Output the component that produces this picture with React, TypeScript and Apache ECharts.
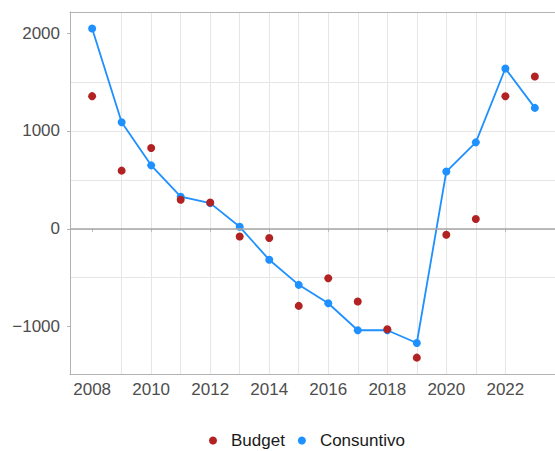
import React, { useEffect, useRef } from "react";
import * as echarts from "echarts";

const years = [2008, 2009, 2010, 2011, 2012, 2013, 2014, 2015, 2016, 2017, 2018, 2019, 2020, 2021, 2022, 2023];
const budget = [1355, 594, 826, 297, 268, -79, -95, -788, -505, -744, -1027, -1317, -61, 99, 1354, 1556];
const consuntivo = [2047, 1088, 648, 328, 262, 20, -317, -573, -761, -1037, -1037, -1167, 585, 883, 1638, 1235];
const yLabelValues = [-1000, 0, 1000, 2000];
const yGridValues = [-1000, -500, 0, 500, 1000, 1500, 2000];
const xLabelValues = [2008, 2010, 2012, 2014, 2016, 2018, 2020, 2022];

const FONT = "'Liberation Sans', Arial, Helvetica, sans-serif";
const GRID = "#e6e6e6";
const BORDER = "#b3b3b3";

export default function App() {
  const ref = useRef<HTMLDivElement>(null);
  useEffect(() => {
    if (!ref.current) return;
    const chart = echarts.init(ref.current, undefined, { renderer: "svg" });
    const yMin = -1484;
    const yMax = 2215;
    const xMin = 2007.25;
    const xMax = 2023.75;
    const fmtY = (v: number) => (v < 0 ? "\u2212" + Math.abs(v) : String(v));
    const borderLine = { show: true, onZero: false, lineStyle: { color: BORDER, width: 1 } };
    chart.setOption({
      animation: false,
      backgroundColor: "#ffffff",
      textStyle: { fontFamily: FONT },
      grid: {
        left: 70,
        top: 12,
        right: 43,
        bottom: 77,
        show: false,
        containLabel: false,
      },
      xAxis: [
        {
          type: "value",
          min: xMin,
          max: xMax,
          position: "bottom",
          axisLine: borderLine,
          axisTick: { show: false, customValues: years },
          splitLine: { show: true, showMinLine: false, showMaxLine: false, lineStyle: { color: GRID, width: 1 } },
          axisLabel: {
            customValues: xLabelValues,
            formatter: (v: number) => String(v),
            color: "#4d4d4d",
            fontSize: 17,
            fontFamily: FONT,
            margin: 7,
          },
        },
        {
          type: "value",
          min: xMin,
          max: xMax,
          position: "bottom",
          axisLine: { show: false },
          axisTick: { show: true, customValues: xLabelValues, length: 3, lineStyle: { color: BORDER } },
          splitLine: { show: false },
          axisLabel: { show: false },
        },
        {
          type: "value",
          min: xMin,
          max: xMax,
          position: "top",
          axisLine: borderLine,
          axisTick: { show: false },
          splitLine: { show: false },
          axisLabel: { show: false },
        },
      ],
      yAxis: [
        {
          type: "value",
          min: yMin,
          max: yMax,
          position: "left",
          axisLine: borderLine,
          axisTick: { show: false, customValues: yGridValues },
          splitLine: { show: true, showMinLine: false, showMaxLine: false, lineStyle: { color: GRID, width: 1 } },
          axisLabel: {
            customValues: yLabelValues,
            formatter: fmtY,
            color: "#4d4d4d",
            fontSize: 17,
            fontFamily: FONT,
            margin: 10,
          },
        },
        {
          type: "value",
          min: yMin,
          max: yMax,
          position: "left",
          axisLine: { show: false },
          axisTick: { show: true, customValues: yLabelValues, length: 3, lineStyle: { color: BORDER } },
          splitLine: { show: false },
          axisLabel: { show: false },
        },
      ],
      legend: {
        data: ["Budget", "Consuntivo"],
        left: 209,
        top: 432,
        padding: 0,
        orient: "horizontal",
        icon: "circle",
        itemWidth: 8,
        itemHeight: 8,
        itemGap: 13,
        textStyle: { fontSize: 17, color: "#1a1a1a", fontFamily: FONT, padding: [0, 0, 0, 9] },
      },
      series: [
        {
          name: "zero",
          type: "line",
          data: [],
          z: 1,
          silent: true,
          markLine: {
            silent: true,
            symbol: ["none", "none"],
            label: { show: false },
            lineStyle: { color: "#a6a6a6", type: "solid", width: 1.6 },
            data: [{ yAxis: 0 }],
          },
        },
        {
          name: "Consuntivo",
          type: "line",
          z: 2,
          data: years.map((y, i) => [y, consuntivo[i]]),
          symbol: "circle",
          symbolSize: 8,
          showAllSymbol: true,
          itemStyle: { color: "#1E90FF" },
          lineStyle: { color: "#1E90FF", width: 1.8 },
        },
        {
          name: "Budget",
          type: "scatter",
          z: 3,
          data: years.map((y, i) => [y, budget[i]]),
          symbol: "circle",
          symbolSize: 8,
          itemStyle: { color: "#B22222", opacity: 1 },
        },
      ],
    });
    return () => chart.dispose();
  }, []);
  return (
    <div style={{ position: "absolute", left: 0, top: 0, width: 555, height: 451, overflow: "hidden", background: "#fff" }}>
      <div ref={ref} style={{ width: 600, height: 451 }} />
    </div>
  );
}
